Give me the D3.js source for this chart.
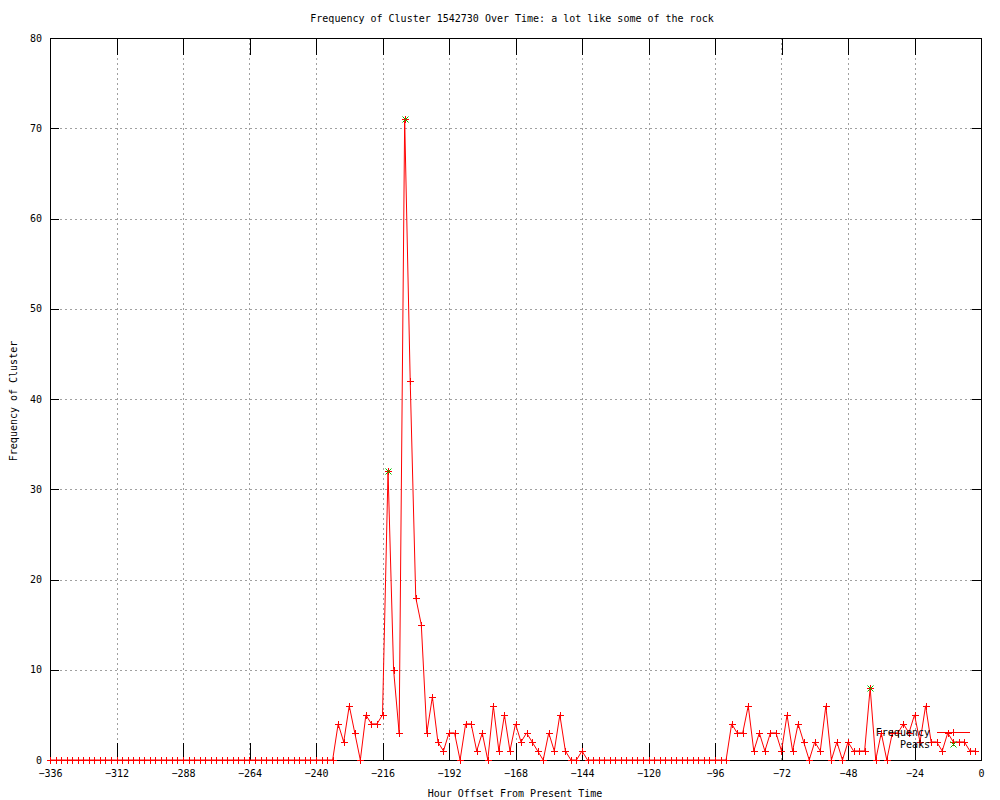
<!DOCTYPE html>
<html>
<head>
<meta charset="utf-8">
<script src="https://cdn.jsdelivr.net/npm/d3@7"></script>
<style>
  html, body { margin: 0; padding: 0; background: #fff; }
  svg text { font-family: "DejaVu Sans Mono", "Liberation Mono", monospace; font-size: 10px; fill: #000; }
</style>
</head>
<body>
<svg id="chart" width="1000" height="800"></svg>
<script>
// ---- data ----
const hours = [
  -336,-334,-332,-330,-328,-326,-324,-322,-320,-318,-316,-314,-312,-310,-308,-306,-304,-302,-300,-298,
  -296,-294,-292,-290,-288,-286,-284,-282,-280,-278,-276,-274,-272,-270,-268,-266,-264,-262,-260,-258,
  -256,-254,-252,-250,-248,-246,-244,-242,-240,-238,-236,-234,-232,-230,-228,-226,-224,-222,-220,-218,
  -216,-214,-212,-210,-208,-206,-204,-202,-200,-198,-196,-194,-192,-190,-188,-186,-184,-182,-180,-178,
  -176,-174,-172,-170,-168,-166,-164,-162,-160,-158,-156,-154,-152,-150,-148,-146,-144,-142,-140,-138,
  -136,-134,-132,-130,-128,-126,-124,-122,-120,-118,-116,-114,-112,-110,-108,-106,-104,-102,-100,-98,
  -96,-94,-92,-90,-88,-86,-84,-82,-80,-78,-76,-74,-72,-70,-68,-66,-64,-62,-60,-58,
  -56,-54,-52,-50,-48,-46,-44,-42,-40,-38,-36,-34,-32,-30,-28,-26,-24,-22,-20,-18,
  -16,-14,-12,-10,-8,-6,-4,-2
];
const frequency = [
  0,0,0,0,0,0,0,0,0,0,0,0,0,0,0,0,0,0,0,0,
  0,0,0,0,0,0,0,0,0,0,0,0,0,0,0,0,0,0,0,0,
  0,0,0,0,0,0,0,0,0,0,0,0,4,2,6,3,0,5,4,4,
  5,32,10,3,71,42,18,15,3,7,2,1,3,3,0,4,4,1,3,0,
  6,1,5,1,4,2,3,2,1,0,3,1,5,1,0,0,1,0,0,0,
  0,0,0,0,0,0,0,0,0,0,0,0,0,0,0,0,0,0,0,0,
  0,0,0,4,3,3,6,1,3,1,3,3,1,5,1,4,2,0,2,1,
  6,0,2,0,2,1,1,1,8,0,3,0,3,3,4,3,5,2,6,2,
  2,1,3,2,2,2,1,1
];
const peakHours = [-214, -208, -40];
const peakValues = [32, 71, 8];
const xTicks = [-336,-312,-288,-264,-240,-216,-192,-168,-144,-120,-96,-72,-48,-24,0];
const yTicks = [0,10,20,30,40,50,60,70,80];
const titleText = "Frequency of Cluster 1542730 Over Time: a lot like some of the rock";
const xLabel = "Hour Offset From Present Time";
const yLabel = "Frequency of Cluster";
const seriesNames = ["Frequency", "Peaks"];

// ---- layout ----
const L = 50, R = 981, T = 38, B = 760;
const svg = d3.select("#chart");
const x = d3.scaleLinear().domain([-336, 0]).range([L, R]);
const y = d3.scaleLinear().domain([0, 80]).range([B, T]);
const px = v => Math.round(x(v)) + 0.5;
const py = v => Math.round(y(v)) + 0.5;

svg.append("rect").attr("width", 1000).attr("height", 800).attr("fill", "#fff");

// grid
const grid = svg.append("g").attr("stroke", "#a0a0a0").attr("stroke-dasharray", "2,3")
  .attr("shape-rendering", "crispEdges");
xTicks.filter(t => t > -336 && t < 0).forEach(t => {
  grid.append("line").attr("x1", px(t)).attr("x2", px(t)).attr("y1", T).attr("y2", B);
});
yTicks.filter(t => t > 0 && t < 80).forEach(t => {
  grid.append("line").attr("x1", L).attr("x2", R).attr("y1", py(t)).attr("y2", py(t));
});

// axes (gnuplot style: inward ticks, mirrored)
const tickLenX = 17, tickLenY = 9;
const xAxis = svg.append("g").attr("transform", `translate(0,${B})`)
  .call(d3.axisBottom(x).tickValues(xTicks).tickFormat(d3.format("d")).tickSizeInner(-tickLenX).tickSizeOuter(0).tickPadding(10));
const xAxisTop = svg.append("g").attr("transform", `translate(0,${T})`)
  .call(d3.axisTop(x).tickValues(xTicks).tickFormat("").tickSizeInner(-tickLenX).tickSizeOuter(0));
const yAxis = svg.append("g").attr("transform", `translate(${L},0)`)
  .call(d3.axisLeft(y).tickValues(yTicks).tickFormat(d3.format("d")).tickSizeInner(-tickLenY).tickSizeOuter(0).tickPadding(8));
const yAxisRight = svg.append("g").attr("transform", `translate(${R},0)`)
  .call(d3.axisRight(y).tickValues(yTicks).tickFormat("").tickSizeInner(-tickLenY).tickSizeOuter(0));
[xAxis, xAxisTop, yAxis, yAxisRight].forEach(g => {
  g.select(".domain").remove();
  g.selectAll("line").attr("stroke", "#000").attr("shape-rendering", "crispEdges");
  g.selectAll("text").attr("font-family", null).attr("font-size", null).attr("fill", "#000");
});

// border
svg.append("rect").attr("x", L + 0.5).attr("y", T + 0.5).attr("width", R - L).attr("height", B - T)
  .attr("fill", "none").attr("stroke", "#000").attr("shape-rendering", "crispEdges");

// frequency line
const pts = hours.map((h, i) => [h, frequency[i]]);
svg.append("path").datum(pts)
  .attr("d", d3.line().x(d => x(d[0])).y(d => y(d[1])))
  .attr("fill", "none").attr("stroke", "#ff0000").attr("stroke-width", 1);

const cross = "M-3.5,0H3.5M0,-3.5V3.5";
const xmark = "M-3,-3L3,3M-3,3L3,-3";
svg.append("g").selectAll("path").data(pts).join("path")
  .attr("transform", d => `translate(${px(d[0])},${py(d[1])})`)
  .attr("d", cross).attr("stroke", "#ff0000").attr("fill", "none").attr("shape-rendering", "crispEdges");

// peaks
svg.append("g").selectAll("path").data(peakHours.map((h, i) => [h, peakValues[i]])).join("path")
  .attr("transform", d => `translate(${px(d[0])},${py(d[1])})`)
  .attr("d", xmark).attr("stroke", "#00c000").attr("fill", "none");

// legend
const lg = svg.append("g");
lg.append("text").attr("x", 930).attr("y", 736).attr("text-anchor", "end").text(seriesNames[0]);
lg.append("line").attr("x1", 937).attr("x2", 970).attr("y1", 732.5).attr("y2", 732.5)
  .attr("stroke", "#ff0000").attr("shape-rendering", "crispEdges");
lg.append("path").attr("transform", "translate(953.5,732.5)").attr("d", cross)
  .attr("stroke", "#ff0000").attr("fill", "none").attr("shape-rendering", "crispEdges");
lg.append("text").attr("x", 930).attr("y", 748).attr("text-anchor", "end").text(seriesNames[1]);
lg.append("path").attr("transform", "translate(953.5,744.5)").attr("d", xmark)
  .attr("stroke", "#00c000").attr("fill", "none");

// titles
svg.append("text").attr("x", 512).attr("y", 22).attr("text-anchor", "middle").text(titleText);
svg.append("text").attr("x", 515).attr("y", 797).attr("text-anchor", "middle").text(xLabel);
svg.append("text").attr("transform", "translate(17,401) rotate(-90)").attr("text-anchor", "middle").text(yLabel);
</script>
</body>
</html>
